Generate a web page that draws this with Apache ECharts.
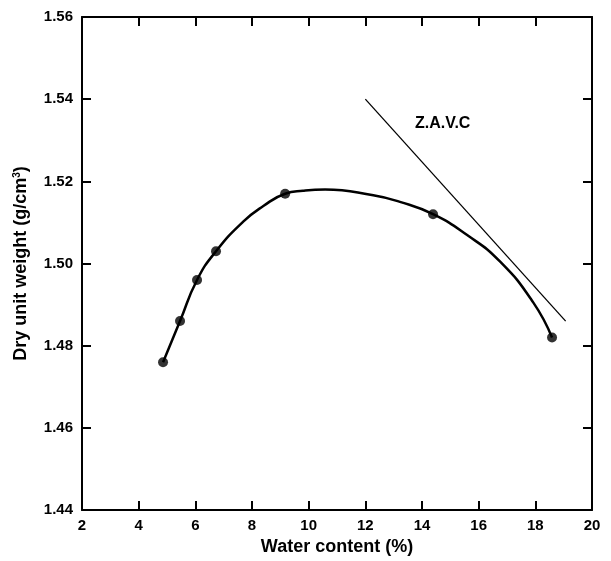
<!DOCTYPE html>
<html>
<head>
<meta charset="utf-8">
<script src="https://cdn.jsdelivr.net/npm/echarts@6/dist/echarts.min.js"></script>
<style>
  html, body { margin: 0; padding: 0; background: #fff; }
  #chart { width: 611px; height: 561px; }
</style>
</head>
<body>
<div id="chart"></div>
<script>
// measured points (water content %, dry unit weight g/cm3)
var waterContent = [4.86, 5.46, 6.06, 6.73, 9.17, 14.39, 18.59];
var dryUnitWeight = [1.476, 1.486, 1.496, 1.503, 1.517, 1.512, 1.482];

// fitted compaction curve
var curveX = [4.86, 5.46, 6.06, 6.73, 7.69, 8.40, 9.17, 9.80, 10.58, 12.28, 13.22, 14.39, 15.58, 16.75, 17.93, 18.59];
var curveY = [1.476, 1.486, 1.496, 1.503, 1.5102, 1.5140, 1.517, 1.5177, 1.518, 1.5166, 1.515, 1.512, 1.507, 1.5005, 1.4905, 1.482];

// zero air voids line
var zavcX = [12.0, 19.07];
var zavcY = [1.540, 1.486];

var xTicks = [2, 20, 2];      // min, max, interval
var yTicks = [1.44, 1.56, 0.02];

function pairs(xs, ys) {
  return xs.map(function (x, i) { return [x, ys[i]]; });
}

var font = 'Liberation Sans, Arial, sans-serif';

var myChart = echarts.init(document.getElementById('chart'));
var option = {
  backgroundColor: '#fff',
  animation: false,
  grid: { left: 82, right: 19, top: 17, bottom: 47 },
  xAxis: [
    {
      type: 'value',
      min: xTicks[0], max: xTicks[1], interval: xTicks[2],
      name: 'Water content (%)',
      nameLocation: 'middle',
      nameGap: 27,
      nameTextStyle: { fontFamily: font, fontWeight: 'bold', fontSize: 18, color: '#000' },
      axisLine: { lineStyle: { color: '#000', width: 2 } },
      axisTick: { inside: true, length: 9, lineStyle: { color: '#000', width: 2 } },
      axisLabel: { fontFamily: font, fontWeight: 'bold', fontSize: 15, color: '#000', margin: 8 },
      splitLine: { show: false }
    },
    {
      type: 'value', position: 'top',
      min: xTicks[0], max: xTicks[1], interval: xTicks[2],
      axisLine: { lineStyle: { color: '#000', width: 2 } },
      axisTick: { inside: true, length: 9, lineStyle: { color: '#000', width: 2 } },
      axisLabel: { show: false },
      splitLine: { show: false }
    }
  ],
  yAxis: [
    {
      type: 'value',
      min: yTicks[0], max: yTicks[1], interval: yTicks[2],
      name: 'Dry unit weight (g/cm{sup|3})',
      nameLocation: 'middle',
      nameGap: 52,
      nameTextStyle: {
        fontFamily: font, fontWeight: 'bold', fontSize: 18, color: '#000',
        rich: { sup: { fontFamily: font, fontSize: 10, color: '#000', verticalAlign: 'top', padding: [0, 0, 8, 0] } }
      },
      axisLine: { lineStyle: { color: '#000', width: 2 } },
      axisTick: { inside: true, length: 9, lineStyle: { color: '#000', width: 2 } },
      axisLabel: {
        fontFamily: font, fontWeight: 'bold', fontSize: 15, color: '#000', margin: 9,
        formatter: function (v) { return v.toFixed(2); }
      },
      splitLine: { show: false }
    },
    {
      type: 'value', position: 'right',
      min: yTicks[0], max: yTicks[1], interval: yTicks[2],
      axisLine: { lineStyle: { color: '#000', width: 2 } },
      axisTick: { inside: true, length: 9, lineStyle: { color: '#000', width: 2 } },
      axisLabel: { show: false },
      splitLine: { show: false }
    }
  ],
  graphic: [
    {
      type: 'text', left: 415, top: 116,
      style: { text: 'Z.A.V.C', fontFamily: font, fontWeight: 'bold', fontSize: 16, fill: '#000' }
    }
  ],
  series: [
    {
      name: 'curve',
      type: 'line',
      data: pairs(curveX, curveY),
      smooth: 0.5,
      showSymbol: false,
      lineStyle: { color: '#000', width: 2.5 }
    },
    {
      name: 'ZAVC',
      type: 'line',
      data: pairs(zavcX, zavcY),
      showSymbol: false,
      lineStyle: { color: '#000', width: 1.3 }
    },
    {
      name: 'points',
      type: 'scatter',
      data: pairs(waterContent, dryUnitWeight),
      symbol: 'circle',
      symbolSize: 10,
      itemStyle: { color: '#000' },
      z: 5
    }
  ]
};
myChart.setOption(option);
</script>
</body>
</html>
